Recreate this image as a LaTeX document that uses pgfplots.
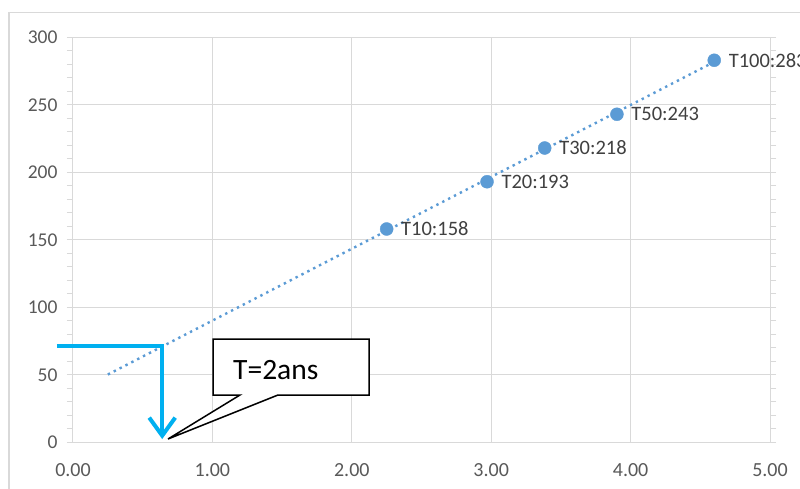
\documentclass[border=0pt]{standalone}
\usepackage{fontspec}
\setmainfont{Carlito}
\usepackage{pgfplots}
\pgfplotsset{compat=1.18}
\usetikzlibrary{arrows.meta}
\definecolor{gridgray}{HTML}{D9D9D9}
\definecolor{ticktext}{HTML}{595959}
\definecolor{series}{HTML}{5B9BD5}
\definecolor{arrowblue}{HTML}{00B0F0}
\definecolor{labeltext}{HTML}{404040}
\begin{document}
\begin{tikzpicture}[x=1pt,y=1pt]
\clip (0,0) rectangle (800,488);
\fill[white] (0,0) rectangle (800,488);
\draw[gridgray, line width=1.8pt] (9,475.5) rectangle (830,-30);
\begin{axis}[
  at={(73pt,45.7pt)}, anchor=south west,
  scale only axis, width=697pt, height=405pt,
  xmin=0, xmax=5, ymin=0, ymax=300,
  xtick={0,1,2,3,4,5}, ytick={0,50,100,150,200,250,300},
  minor y tick num=4,
  clip=false,
  grid=major,
  major grid style={gridgray, line width=1pt},
  axis line style={gridgray, line width=1pt},
  tick align=outside,
  major tick length=6pt, minor tick length=6pt,
  every tick/.style={gridgray, line width=1pt},
  x tick style={draw=none},
  /pgf/number format/assume math mode=true,
  xticklabel style={/pgf/number format/.cd, fixed, fixed zerofill, precision=2, /tikz/.cd,
     font=\fontsize{20}{22}\selectfont, text=ticktext, yshift=-12pt},
  yticklabel style={font=\fontsize{19.5}{21}\selectfont, text=ticktext, xshift=-6pt},
]
\addplot[series, line width=2.4pt, dash pattern=on 2.4pt off 4.2pt] coordinates {(0.25,50.2) (4.6,281.8)};
\addplot[only marks, mark=*, mark size=6.5pt, color=series,
  point meta=explicit symbolic,
  nodes near coords,
  every node near coord/.style={anchor=west, xshift=11pt, font=\fontsize{20.5}{22}\selectfont, text=labeltext}]
  coordinates {
  (2.250,158) [T10:158]
  (2.970,193) [T20:193]
  (3.384,218) [T30:218]
  (3.902,243) [T50:243]
  (4.600,283) [T100:283]
};
\draw[arrowblue, line width=4pt, -{Straight Barb[length=18pt, width=26pt]}]
  (axis cs:-0.115,71) -- (axis cs:0.64,71) -- (axis cs:0.64,2.4);
\end{axis}
\draw[black, line width=1.5pt, fill=white, line join=miter]
  (213,149) -- (369,149) -- (369,93) -- (278,93) -- (168,49) -- (240,93) -- (213,93) -- cycle;
\node[anchor=base west, inner sep=0pt, font=\fontsize{29.5}{32}\selectfont] at (233,109) {T=2ans};
\end{tikzpicture}
\end{document}
